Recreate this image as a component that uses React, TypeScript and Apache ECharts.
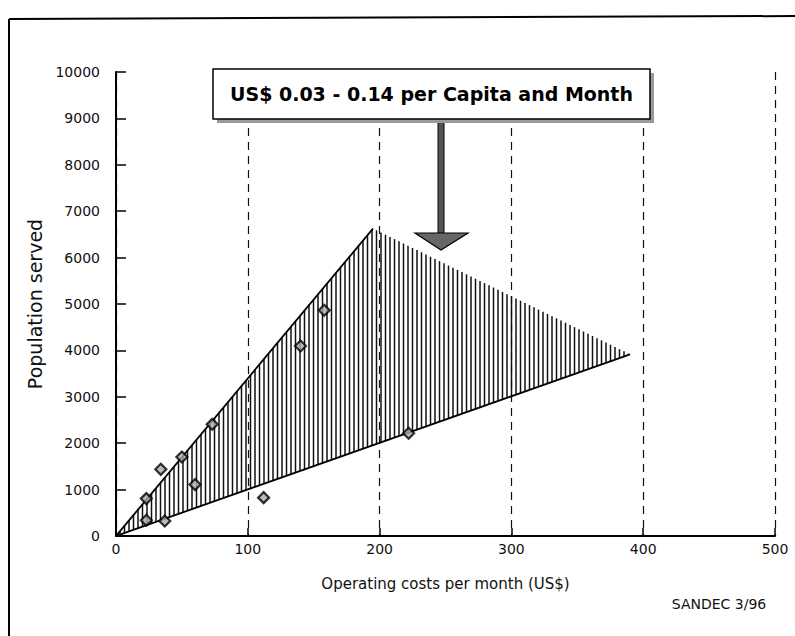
import React, { useEffect, useRef } from "react";
import * as echarts from "echarts";

// ---- data ----
const xTickValues = [0, 100, 200, 300, 400, 500];
const yTickValues = [0, 1000, 2000, 3000, 4000, 5000, 6000, 7000, 8000, 9000, 10000];

const plantCosts = [23, 23, 37, 34, 50, 60, 73, 112, 140, 158, 222];
const plantPopulation = [806, 338, 323, 1437, 1703, 1108, 2407, 827, 4095, 4864, 2213];

// hatched region vertices: origin, apex of upper bound, end of lower bound
const regionCosts = [0, 195, 390];
const regionPopulation = [0, 6625, 3916];

const titleText = "US$ 0.03 - 0.14 per Capita and Month";
const xAxisName = "Operating costs per month (US$)";
const yAxisName = "Population served";
const sourceText = "SANDEC 3/96";

const FONT = "DejaVu Sans";

export default function App() {
  const ref = useRef<HTMLDivElement>(null);

  useEffect(() => {
    if (!ref.current) return;
    const chart = echarts.init(ref.current, null, { renderer: "svg" });

    const renderRegion = (params: any, api: any) => {
      const p0 = api.coord([regionCosts[0], regionPopulation[0]]);
      const p1 = api.coord([regionCosts[1], regionPopulation[1]]);
      const p2 = api.coord([regionCosts[2], regionPopulation[2]]);
      const lerp = (a: number[], b: number[], x: number) =>
        a[1] + ((b[1] - a[1]) * (x - a[0])) / (b[0] - a[0]);
      const children: any[] = [];
      for (let x = p0[0] + 4; x < p2[0]; x += 4.5) {
        const yTop = x <= p1[0] ? lerp(p0, p1, x) : lerp(p1, p2, x);
        const yBot = lerp(p0, p2, x);
        children.push({
          type: "line",
          shape: { x1: x, y1: yTop, x2: x, y2: yBot },
          style: { stroke: "#111", lineWidth: 1.5 },
        });
      }
      children.push({
        type: "line",
        shape: { x1: p0[0], y1: p0[1], x2: p1[0], y2: p1[1] },
        style: { stroke: "#000", lineWidth: 1.8 },
      });
      children.push({
        type: "line",
        shape: { x1: p0[0], y1: p0[1], x2: p2[0], y2: p2[1] },
        style: { stroke: "#000", lineWidth: 1.8 },
      });
      return { type: "group", children };
    };

    const boxX = 213, boxY = 69, boxW = 437, boxH = 50;

    chart.setOption({
      animation: false,
      backgroundColor: "#fff",
      textStyle: { fontFamily: FONT },
      grid: { left: 116, right: 20, top: 72, bottom: 100, containLabel: false },
      xAxis: {
        type: "value",
        min: xTickValues[0],
        max: xTickValues[xTickValues.length - 1],
        interval: 100,
        name: xAxisName,
        nameLocation: "middle",
        nameGap: 40,
        nameTextStyle: { fontFamily: FONT, fontSize: 15, color: "#111" },
        axisLine: { show: true, lineStyle: { color: "#000", width: 2 } },
        axisTick: { show: true, inside: true, length: 8, lineStyle: { color: "#000", width: 1.5 } },
        axisLabel: { fontFamily: FONT, fontSize: 14, color: "#111", margin: 6, formatter: (v: number) => String(v) },
        splitLine: { show: true, lineStyle: { type: [8, 6], color: "#111", width: 1.2 } },
      },
      yAxis: {
        type: "value",
        min: yTickValues[0],
        max: yTickValues[yTickValues.length - 1],
        interval: 1000,
        name: yAxisName,
        nameLocation: "middle",
        nameGap: 68,
        nameRotate: 90,
        nameTextStyle: { fontFamily: FONT, fontSize: 19, color: "#111" },
        axisLine: { show: true, lineStyle: { color: "#000", width: 2 } },
        axisTick: { show: true, inside: true, length: 10, lineStyle: { color: "#000", width: 1.5 } },
        axisLabel: { fontFamily: FONT, fontSize: 14, color: "#111", margin: 16, formatter: (v: number) => String(v) },
        splitLine: { show: false },
      },
      series: [
        {
          type: "custom",
          renderItem: renderRegion,
          data: [[0]],
          clip: true,
          silent: true,
          z: 1,
        },
        {
          type: "scatter",
          data: plantCosts.map((c, i) => [c, plantPopulation[i]]),
          symbol: "diamond",
          symbolSize: 11,
          itemStyle: { color: "#aaa", borderColor: "#000", borderWidth: 2.2 },
          z: 3,
        },
      ],
      graphic: [
        // outer frame
        { type: "line", shape: { x1: 9, y1: 19, x2: 795, y2: 16 }, style: { stroke: "#000", lineWidth: 2 } },
        { type: "line", shape: { x1: 9, y1: 19, x2: 9, y2: 636 }, style: { stroke: "#000", lineWidth: 2 } },
        // arrow
        { type: "rect", shape: { x: 438, y: boxY + boxH, width: 6, height: 115 }, style: { fill: "#555", stroke: "#000", lineWidth: 1 }, z: 100 },
        { type: "polygon", shape: { points: [[415, 233], [468, 233], [441, 250]] }, style: { fill: "#666", stroke: "#000", lineWidth: 1.2 }, z: 100 },
        // title box shadow + box
        { type: "rect", shape: { x: boxX + 4, y: boxY + 4, width: boxW, height: boxH }, style: { fill: "#9a9a9a" }, z: 100 },
        { type: "rect", shape: { x: boxX, y: boxY, width: boxW, height: boxH }, style: { fill: "#fff", stroke: "#000", lineWidth: 1.5 }, z: 101 },
        {
          type: "text",
          x: boxX + boxW / 2,
          y: boxY + boxH / 2,
          z: 102,
          style: {
            text: titleText,
            fontFamily: FONT,
            fontWeight: "bold",
            fontSize: 19,
            fill: "#000",
            align: "center",
            verticalAlign: "middle",
          },
        },
        {
          type: "text",
          x: 719,
          y: 604,
          style: {
            text: sourceText,
            fontFamily: FONT,
            fontSize: 14,
            fill: "#111",
            align: "center",
            verticalAlign: "middle",
          },
        },
      ],
    });

    return () => chart.dispose();
  }, []);

  return (
    <div
      ref={ref}
      style={{ position: "fixed", left: 0, top: 0, width: 795, height: 636, background: "#fff" }}
    />
  );
}
